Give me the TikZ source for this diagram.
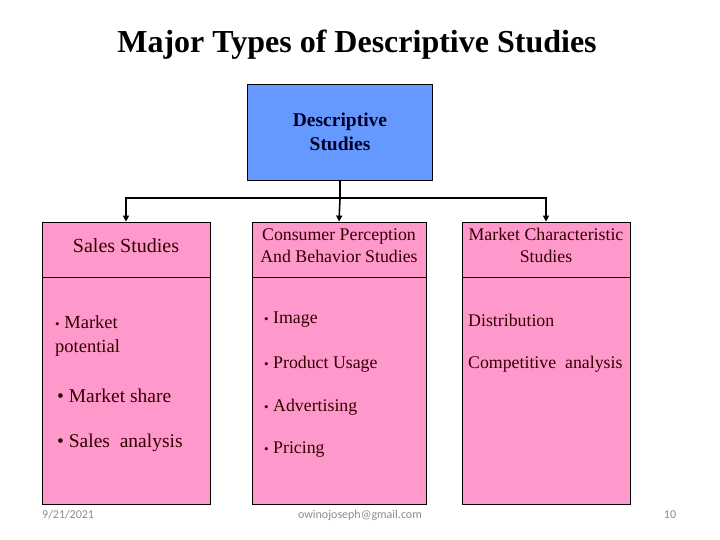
\documentclass[tikz,border=0pt]{standalone}
\usepackage{fontspec}
\setmainfont{Liberation Serif}
\newfontfamily\footfont{Carlito}
\usetikzlibrary{arrows.meta}
\definecolor{topblue}{HTML}{6699FF}
\definecolor{boxpink}{HTML}{FF99CC}
\definecolor{inkred}{HTML}{330000}
\definecolor{footgray}{HTML}{8C8C8C}
\newcommand{\fsz}[1]{\fontsize{#1}{#1}\selectfont}
\newcommand{\sdot}{{\fsz{13}\textbullet}}
\begin{document}
\begin{tikzpicture}[x=1pt, y=-1pt,
  headbox/.style={draw=black, fill=boxpink, line width=0.8pt, minimum width=168pt,
    minimum height=55pt, inner sep=0pt},
  headtext/.style={align=center, text=inkred, inner sep=0pt, yshift=4pt},
  bodybox/.style={draw=black, fill=boxpink, line width=0.8pt, minimum width=168pt,
    minimum height=227pt, anchor=north},
  item/.style={anchor=west, text=inkred, inner sep=0pt},
  link/.style={line width=1.6pt, -{Triangle[length=6pt,width=6pt]}},
  foot/.style={text=footgray, inner sep=0pt, font=\footfont\fsz{12}}]
\useasboundingbox (0,0) rectangle (720,540);
\node[font=\bfseries\fsz{32}] (title) at (357,45) {Major Types of Descriptive Studies};
\node[draw=black, fill=topblue, line width=0.8pt, minimum width=185pt, minimum height=96pt,
  align=center, text=blue!15!black, font=\bfseries\fsz{19.5}, inner sep=0pt] (top) at (340,132)
  {Descriptive\\[4pt]Studies};
% columns
\node[headbox] (head1) at (126,249.5) {};
\node[headbox, minimum width=174pt] (head2) at (339,249.5) {};
\node[headbox] (head3) at (546,249.5) {};
\node[headtext, font=\fsz{20}] (t1) at (head1.center) {Sales Studies};
\node[headtext, font=\fsz{17.8}] (t2) at (head2.center) {Consumer Perception\\[4pt]And Behavior Studies};
\node[headtext, font=\fsz{17.8}] (t3) at (head3.center) {Market Characteristic\\[4pt]Studies};
\node[bodybox] (body1) at (head1.south) {};
\node[bodybox, minimum width=174pt] (body2) at (head2.south) {};
\node[bodybox] (body3) at (head3.south) {};
% connectors
\coordinate (split) at (top.south |- 0,198);
\draw[line width=1.6pt] (top.south) -- (split);
\draw[link] (split) -| (head1.north);
\draw[link] (split) -- (head2.north);
\draw[link] (split) -| (head3.north);
% items
\node[item, font=\fsz{18.5}, align=left] (i11) at (55,336) {\sdot\ Market\\[5pt]potential};
\node[item, font=\fsz{19.5}] (i12) at (57,396) {\textbullet\ Market share};
\node[item, font=\fsz{19.5}] (i13) at (57,443) {\textbullet\ Sales\ \ analysis};
\node[item, font=\fsz{17.8}] (i21) at (264,320) {\sdot\ Image};
\node[item, font=\fsz{17.8}] (i22) at (264,364) {\sdot\ Product Usage};
\node[item, font=\fsz{17.8}] (i23) at (264,407) {\sdot\ Advertising};
\node[item, font=\fsz{17.8}] (i24) at (264,450) {\sdot\ Pricing};
\node[item, font=\fsz{17.8}] (i31) at (468,320) {Distribution};
\node[item, font=\fsz{17.8}] (i32) at (468,364) {Competitive\ \ analysis};
% footer
\node[foot, anchor=west] (date) at (42,515) {9/21/2021};
\node[foot] (mail) at (360,515) {owinojoseph@gmail.com};
\node[foot] (page) at (670,515) {10};
\end{tikzpicture}
\end{document}
